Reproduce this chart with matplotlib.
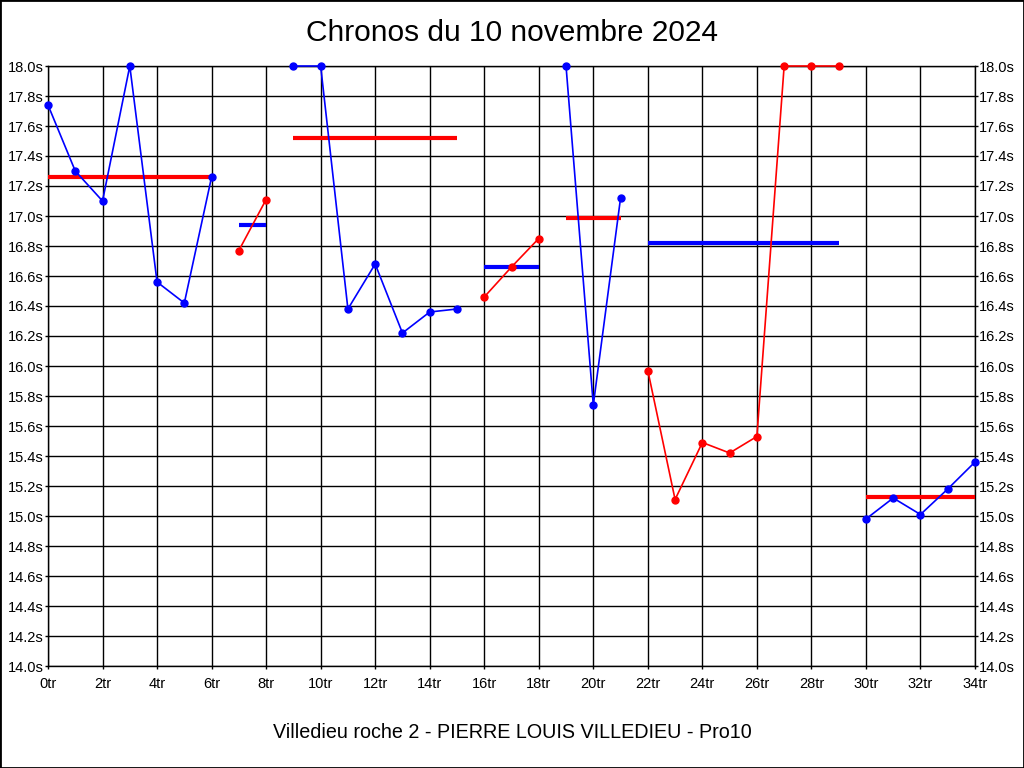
import matplotlib
matplotlib.use("Agg")
import matplotlib.pyplot as plt
import matplotlib.ticker as tck
from matplotlib.patches import Rectangle

plt.rcParams['font.family'] = ['Liberation Sans', 'DejaVu Sans']

# chronos par relais (plafonnees a 18.0s)
tours_1 = [0, 1, 2, 3, 4, 5, 6]
chronos_1 = [17.74, 17.30, 17.10, 18.00, 16.56, 16.42, 17.26]

tours_2 = [7, 8]
chronos_2 = [16.77, 17.11]

tours_3 = [9, 10, 11, 12, 13, 14, 15]
chronos_3 = [18.00, 18.00, 16.38, 16.68, 16.22, 16.36, 16.38]

tours_4 = [16, 17, 18]
chronos_4 = [16.46, 16.66, 16.85]

tours_5 = [19, 20, 21]
chronos_5 = [18.00, 15.74, 17.12]

tours_6 = [22, 23, 24, 25, 26, 27, 28, 29]
chronos_6 = [15.97, 15.11, 15.49, 15.42, 15.53, 18.00, 18.00, 18.00]

tours_7 = [30, 31, 32, 33, 34]
chronos_7 = [14.98, 15.12, 15.01, 15.18, 15.36]

# moyenne de chaque relais
moyennes = [17.26, 16.94, 17.52, 16.66, 16.99, 16.82, 15.13]

relais = [(tours_1, chronos_1), (tours_2, chronos_2), (tours_3, chronos_3),
          (tours_4, chronos_4), (tours_5, chronos_5), (tours_6, chronos_6),
          (tours_7, chronos_7)]

bleu = "#0000ff"
rouge = "#ff0000"

fig = plt.figure(figsize=(10.24, 7.68), dpi=100)
ax = fig.add_axes([48/1024, 1-666/768, (975-48)/1024, 600/768])

for i in range(len(relais)):
    tours, chronos = relais[i]
    if i % 2 == 0:
        c_ligne, c_moy = bleu, rouge
    else:
        c_ligne, c_moy = rouge, bleu
    ax.plot(tours, chronos, color=c_ligne, linewidth=1.2, marker="o",
            markersize=5, clip_on=False, zorder=4)
    ax.plot([tours[0], tours[-1]], [moyennes[i], moyennes[i]], color=c_moy,
            linewidth=3, solid_capstyle="butt", zorder=3)

ax.set_xlim(0, 34)
ax.set_ylim(14.0, 18.0)
ax.xaxis.set_major_locator(tck.MultipleLocator(2))
ax.yaxis.set_major_locator(tck.MultipleLocator(0.2))
ax.xaxis.set_major_formatter(tck.FuncFormatter(lambda v, p: "%dtr" % round(v)))
ax.yaxis.set_major_formatter(tck.FuncFormatter(lambda v, p: "%.1fs" % v))
ax.tick_params(axis="both", labelsize=10.5, length=2, width=1, color="black",
               pad=1)
ax.tick_params(axis="x", pad=6)
ax.tick_params(axis="y", left=True, right=True, labelleft=True, labelright=True)
ax.grid(True, color="black", linewidth=1)
ax.set_axisbelow(True)
for s in ax.spines.values():
    s.set_color("black")
    s.set_linewidth(1)

fig.text(0.5, 1-33/768, "Chronos du 10 novembre 2024", ha="center",
         va="center", fontsize=21.5)
fig.text(0.5, 1-733/768, "Villedieu roche 2 - PIERRE LOUIS VILLEDIEU - Pro10",
         ha="center", va="center", fontsize=14.2)

fig.patches.append(Rectangle((0, 0), 1, 1, transform=fig.transFigure,
                             fill=False, edgecolor="black", linewidth=2))

plt.savefig("out.png", dpi=100)
